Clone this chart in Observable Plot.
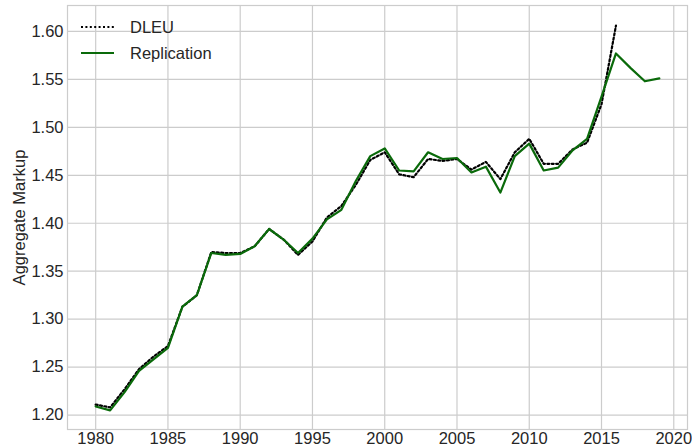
<!DOCTYPE html>
<html>
<head>
<meta charset="utf-8">
<script src="https://cdn.jsdelivr.net/npm/d3@7"></script>
<script src="https://cdn.jsdelivr.net/npm/@observablehq/plot@0.6"></script>
<style>
  html, body { margin: 0; padding: 0; background: #fff; }
  #wrap { position: relative; width: 692px; height: 448px; font-family: "Liberation Sans", Arial, sans-serif; }
  #wrap svg text { font-size: 16.5px !important; fill: #262626; }
  #legend { position: absolute; left: 80px; top: 14px; font-size: 16.5px; color: #262626; line-height: 26px; }
  #legend .row { display: flex; align-items: center; }
  #legend svg { margin-right: 15px; }
</style>
</head>
<body>
<div id="wrap"></div>
<script>
const years = d3.range(1980, 2020);

const replication = [
  1.209, 1.205, 1.224, 1.246, 1.258, 1.270, 1.313, 1.325, 1.369, 1.367,
  1.368, 1.376, 1.394, 1.383, 1.369, 1.384, 1.404, 1.414, 1.444, 1.470,
  1.478, 1.455, 1.454, 1.474, 1.467, 1.468, 1.453, 1.459, 1.432, 1.470,
  1.483, 1.455, 1.458, 1.476, 1.488, 1.532, 1.577, 1.562, 1.548, 1.551
];

const dleuYears = d3.range(1980, 2017);
const dleu = [
  1.211, 1.208, 1.227, 1.248, 1.261, 1.272, 1.313, 1.325, 1.370, 1.369,
  1.369, 1.376, 1.394, 1.383, 1.367, 1.381, 1.406, 1.418, 1.440, 1.466,
  1.474, 1.451, 1.448, 1.467, 1.465, 1.467, 1.456, 1.464, 1.446, 1.474,
  1.488, 1.462, 1.462, 1.477, 1.484, 1.524, 1.606
];

const xTicks = d3.range(1980, 2021, 5);
const yTicks = [1.20, 1.25, 1.30, 1.35, 1.40, 1.45, 1.50, 1.55, 1.60];

const repData = years.map((y, i) => ({year: y, value: replication[i]}));
const dleuData = dleuYears.map((y, i) => ({year: y, value: dleu[i]}));

const chart = Plot.plot({
  width: 692,
  height: 448,
  marginLeft: 67,
  marginRight: 5,
  marginTop: 5,
  marginBottom: 19,
  style: {fontFamily: "Liberation Sans, Arial, sans-serif", fontSize: "16.5px", color: "#262626", background: "#fff"},
  x: {domain: [1978.05, 2020.95]},
  y: {domain: [1.185, 1.627]},
  marks: [
    Plot.gridX(xTicks, {stroke: "#cccccc", strokeOpacity: 1, strokeWidth: 1.2}),
    Plot.gridY(yTicks, {stroke: "#cccccc", strokeOpacity: 1, strokeWidth: 1.2}),
    Plot.frame({stroke: "#cccccc", strokeWidth: 1.2}),
    Plot.axisX(xTicks, {tickSize: 0, tickPadding: 3, tickFormat: d => String(d), label: null}),
    Plot.axisY(yTicks, {tickSize: 0, tickPadding: 4, tickFormat: d => d.toFixed(2), label: "Aggregate Markup", labelAnchor: "center", labelArrow: "none", labelOffset: 54}),
    Plot.line(dleuData, {x: "year", y: "value", stroke: "#000", strokeWidth: 2.2, strokeDasharray: "2,2.4"}),
    Plot.line(repData, {x: "year", y: "value", stroke: "#0a6a0a", strokeWidth: 2.2})
  ]
});

const wrap = document.getElementById("wrap");
wrap.appendChild(chart);

const legend = document.createElement("div");
legend.id = "legend";
legend.innerHTML = `
  <div class="row"><svg width="35" height="10"><line x1="1" y1="5" x2="34" y2="5" stroke="#000" stroke-width="2.2" stroke-dasharray="2,2.4"/></svg><span>DLEU</span></div>
  <div class="row"><svg width="35" height="10"><line x1="1" y1="5" x2="34" y2="5" stroke="#0a6a0a" stroke-width="2.2"/></svg><span>Replication</span></div>`;
wrap.appendChild(legend);
</script>
</body>
</html>
